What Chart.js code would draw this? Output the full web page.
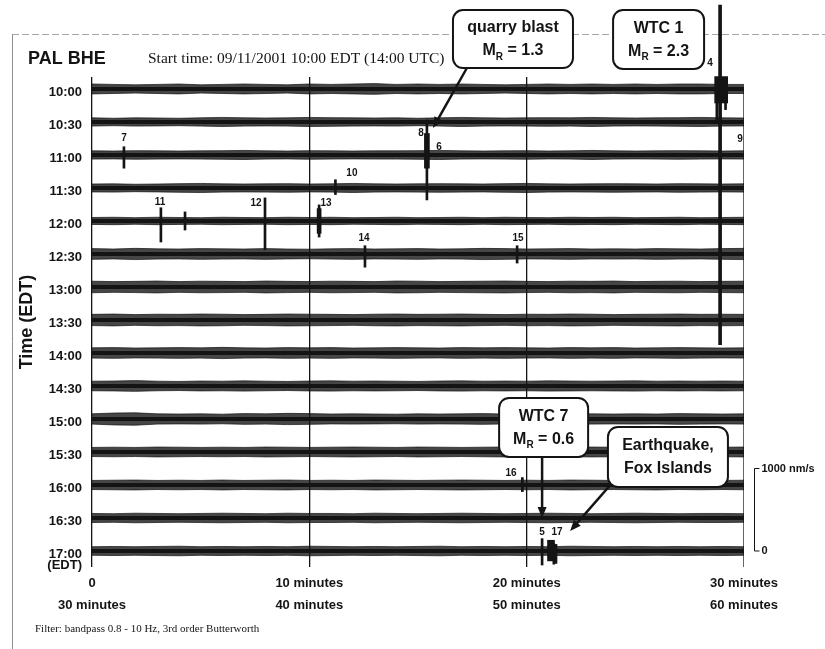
<!DOCTYPE html>
<html>
<head>
<meta charset="utf-8">
<title>PAL BHE seismogram</title>
<script src="https://cdn.jsdelivr.net/npm/chart.js@4.4.1/dist/chart.umd.min.js"></script>
<style>
  html, body { margin: 0; padding: 0; background: #fff; }
  #wrap { width: 825px; height: 649px; position: relative; }
</style>
</head>
<body>
<div id="wrap"><canvas id="seis"></canvas></div>
<script>
const INK = "#141414";
const SANS = "'Liberation Sans', Arial, sans-serif";
const SERIF = "'Liberation Serif', 'Times New Roman', serif";

// one trace per half hour, stacked downward
const TRACE_LABELS = [
  "10:00", "10:30", "11:00", "11:30", "12:00", "12:30", "13:00", "13:30",
  "14:00", "14:30", "15:00", "15:30", "16:00", "16:30", "17:00",
];
const TRACE_SPACING = 400; // nm/s between baselines

// sample times along each trace (minutes)
const MINUTES = [
  0, 1, 2, 3, 4, 5, 6, 7, 8, 9, 10, 11, 12, 13, 14, 15,
  16, 17, 18, 19, 20, 21, 22, 23, 24, 25, 26, 27, 28, 29, 30,
];

// background noise envelope per trace, half amplitude in nm/s
const NOISE_1000 = [60,55,50,55,60,50,55,60,55,50,60,55,60,65,55,60,55,60,55,50,55,60,55,60,55,60,55,60,60,55,55];
const NOISE_1030 = [50,45,50,48,45,50,55,50,48,50,55,52,50,48,50,45,50,55,50,48,50,52,50,55,50,48,50,52,55,50,48];
const NOISE_1100 = [50,48,52,50,48,50,52,55,50,48,52,50,48,50,50,52,55,50,48,50,52,48,50,55,50,48,50,52,50,48,50];
const NOISE_1130 = [48,50,45,48,52,55,50,48,50,52,48,50,55,50,48,50,52,50,48,52,55,50,48,50,52,50,48,52,50,48,50];
const NOISE_1200 = [42,45,40,45,42,40,45,42,40,45,42,45,40,42,45,40,42,45,40,45,42,40,45,42,45,40,42,45,40,42,45];
const NOISE_1230 = [65,60,68,62,60,65,62,60,65,60,58,62,65,60,62,65,60,62,68,65,60,62,65,60,62,60,65,62,60,65,68];
const NOISE_1300 = [70,65,68,72,65,70,68,65,72,68,65,70,68,65,72,70,65,68,70,72,68,65,70,68,72,65,68,70,65,68,70];
const NOISE_1330 = [68,72,65,70,68,72,70,65,68,72,70,68,65,70,72,68,70,72,68,65,70,68,72,70,65,68,70,72,68,70,68];
const NOISE_1400 = [62,65,60,62,65,62,68,62,60,65,62,65,60,62,65,62,60,65,62,65,62,60,65,62,65,60,62,65,62,60,62];
const NOISE_1430 = [58,60,65,58,55,60,58,62,58,55,60,62,58,60,58,55,60,62,58,60,58,62,60,58,60,62,58,60,58,60,58];
const NOISE_1500 = [62,72,75,62,60,62,58,65,62,68,65,60,62,60,58,62,60,62,65,60,62,60,65,62,60,62,60,65,62,60,62];
const NOISE_1530 = [55,58,55,60,58,55,58,55,60,58,55,58,60,58,55,60,58,55,58,60,58,55,58,60,58,55,60,58,55,58,60];
const NOISE_1600 = [55,58,60,55,58,55,60,55,58,60,55,58,55,60,58,55,58,60,58,55,58,55,60,58,55,58,60,55,58,55,58];
const NOISE_1630 = [55,52,58,55,52,55,58,55,52,58,55,55,52,58,55,52,55,58,55,52,55,58,55,52,55,58,55,52,55,55,52];
const NOISE_1700 = [52,55,52,55,58,52,55,52,55,52,58,55,52,55,52,55,58,52,55,52,55,52,58,55,52,55,52,55,52,55,52];
const NOISE = [
  NOISE_1000, NOISE_1030, NOISE_1100, NOISE_1130, NOISE_1200,
  NOISE_1230, NOISE_1300, NOISE_1330, NOISE_1400, NOISE_1430,
  NOISE_1500, NOISE_1530, NOISE_1600, NOISE_1630, NOISE_1700,
];

// short arrivals: [trace, minute, up nm/s, down nm/s]
const SPIKES = [
  [2, 1.47, 100, 160],
  [4, 3.17, 160, 255],
  [4, 4.28, 110, 110],
  [4, 7.96, 280, 350],
  [4, 10.45, 195, 195],
  [5, 12.56, 100, 160],
  [5, 19.56, 100, 110],
  [3, 11.2, 100, 80],
  [12, 19.8, 90, 80],
  [2, 15.41, 424, 545],
  [14, 20.71, 150, 170],
  [14, 21.25, 90, 160],
  [14, 21.35, 80, 150],
  [0, 28.75, 110, 420],
  [0, 29.15, 90, 250],
];

// energetic bursts: [trace, minute, up nm/s, down nm/s, bar width px]
const BURSTS = [
  [0, 28.9, 1018, 3100, 3],
  [0, 28.95, 150, 170, 13],
  [2, 15.41, 260, 160, 5],
  [14, 21.12, 130, 120, 7],
  [4, 10.45, 150, 150, 4],
];

// event numbers: [text, trace, minute, offset above baseline nm/s]
const EVENT_TAGS = [
  ["4", 0, 28.44, 315], ["9", 2, 29.82, 193], ["8", 2, 15.14, 266],
  ["6", 2, 15.97, 97], ["7", 2, 1.47, 206], ["10", 3, 11.96, 181],
  ["11", 4, 3.13, 230], ["12", 4, 7.55, 218], ["13", 4, 10.77, 218],
  ["14", 5, 12.52, 194], ["15", 5, 19.6, 194], ["16", 12, 19.28, 145],
  ["5", 14, 20.71, 230], ["17", 14, 21.4, 230],
];

// callout boxes, centre and arrow ends in (minute, nm/s)
const CALLOUTS = [
  { lines: ["quarry blast", "M_R = 1.3"], at: [19.37, 605], w: 120, h: 58,
    arrow: [[17.25, 254], [15.69, -473]] },
  { lines: ["WTC 1", "M_R = 2.3"], at: [26.07, 600], w: 91, h: 59, arrow: null },
  { lines: ["WTC 7", "M_R = 0.6"], at: [20.78, -4103], w: 89, h: 59,
    arrow: [[20.71, -4461], [20.71, -5200]] },
  { lines: ["Earthquake,", "Fox Islands"], at: [26.5, -4460], w: 120, h: 60,
    arrow: [[23.93, -4776], [22.0, -5358]] },
];

const X_TICKS = [0, 10, 20, 30];
const X_LABELS = [
  ["0", "30 minutes"],
  ["10 minutes", "40 minutes"],
  ["20 minutes", "50 minutes"],
  ["30 minutes", "60 minutes"],
];
const SCALE_BAR = 1000; // nm/s
const Y_MIN = -5794;
const Y_MAX = 145;
const X_END = 30;

const baseOf = (t) => -t * TRACE_SPACING;

const datasets = [];
NOISE.forEach((amps, t) => {
  const base = baseOf(t);
  datasets.push({
    type: "line",
    data: MINUTES.map((m, k) => ({ x: m, y: base + amps[k] })),
    borderColor: "rgba(18,18,18,0.7)",
    borderWidth: 1,
    backgroundColor: "rgba(18,18,18,0.78)",
    fill: "+1",
    pointRadius: 0,
    tension: 0,
    order: 2,
  });
  datasets.push({
    type: "line",
    data: MINUTES.map((m, k) => ({ x: m, y: base - amps[k] })),
    borderColor: "rgba(18,18,18,0.7)",
    borderWidth: 1,
    fill: false,
    pointRadius: 0,
    tension: 0,
    order: 2,
  });
  // dense core of the trace
  datasets.push({
    type: "line",
    data: [{ x: MINUTES[0], y: base }, { x: MINUTES[MINUTES.length - 1], y: base }],
    borderColor: INK,
    borderWidth: 4,
    fill: false,
    pointRadius: 0,
    order: 1,
  });
});

// closing frame line at the end of the window, from the first trace down
datasets.push({
  type: "line",
  data: [{ x: X_END, y: baseOf(0) }, { x: X_END, y: Y_MIN }],
  borderColor: INK,
  borderWidth: 1.3,
  fill: false,
  pointRadius: 0,
  order: 3,
});

datasets.push({
  type: "bar",
  data: SPIKES.map(([t, m, up, dn]) => ({ x: m, y: [baseOf(t) - dn, baseOf(t) + up] })),
  backgroundColor: INK,
  barThickness: 2,
  grouped: false,
  clip: false,
  order: 0,
});
BURSTS.forEach(([t, m, up, dn, w]) => {
  datasets.push({
    type: "bar",
    data: [{ x: m, y: [baseOf(t) - dn, baseOf(t) + up] }],
    backgroundColor: INK,
    barThickness: w,
    grouped: false,
    clip: false,
    order: 0,
  });
});

function drawArrow(ctx, x0, y0, x1, y1) {
  const ang = Math.atan2(y1 - y0, x1 - x0);
  const len = 11;
  ctx.beginPath();
  ctx.moveTo(x0, y0);
  ctx.lineTo(x1 - Math.cos(ang) * len * 0.8, y1 - Math.sin(ang) * len * 0.8);
  ctx.lineWidth = 2.5;
  ctx.strokeStyle = INK;
  ctx.stroke();
  ctx.beginPath();
  ctx.moveTo(x1, y1);
  ctx.lineTo(x1 - Math.cos(ang) * len + Math.sin(ang) * 4.5, y1 - Math.sin(ang) * len - Math.cos(ang) * 4.5);
  ctx.lineTo(x1 - Math.cos(ang) * len - Math.sin(ang) * 4.5, y1 - Math.sin(ang) * len + Math.cos(ang) * 4.5);
  ctx.closePath();
  ctx.fillStyle = INK;
  ctx.fill();
}

// text with an "_R" subscript marker
function drawCalloutLine(ctx, text, cx, cy) {
  const big = `bold 16px ${SANS}`;
  const small = `bold 10px ${SANS}`;
  const parts = text.split("_R");
  ctx.textBaseline = "middle";
  ctx.textAlign = "left";
  if (parts.length === 1) {
    ctx.font = big;
    const w = ctx.measureText(text).width;
    ctx.fillText(text, cx - w / 2, cy);
    return;
  }
  ctx.font = big;
  const w0 = ctx.measureText(parts[0]).width;
  const w2 = ctx.measureText(parts[1]).width;
  ctx.font = small;
  const w1 = ctx.measureText("R").width;
  let x = cx - (w0 + w1 + w2) / 2;
  ctx.font = big;
  ctx.fillText(parts[0], x, cy);
  x += w0;
  ctx.font = small;
  ctx.fillText("R", x, cy + 6);
  x += w1;
  ctx.font = big;
  ctx.fillText(parts[1], x, cy);
}

const decor = {
  id: "decor",
  beforeDraw(chart) {
    const { ctx } = chart;
    ctx.save();
    ctx.fillStyle = "#fff";
    ctx.fillRect(0, 0, chart.width, chart.height);
    // sheet edge
    ctx.strokeStyle = "#a6a6a6";
    ctx.lineWidth = 1;
    ctx.setLineDash([7, 3]);
    ctx.beginPath();
    ctx.moveTo(12, 34.5);
    ctx.lineTo(chart.width, 34.5);
    ctx.stroke();
    ctx.setLineDash([]);
    ctx.strokeStyle = "#8e8e8e";
    ctx.beginPath();
    ctx.moveTo(12.5, 34);
    ctx.lineTo(12.5, chart.height);
    ctx.stroke();
    ctx.restore();
  },
  afterDraw(chart) {
    const { ctx, chartArea: area } = chart;
    const xs = chart.scales.x;
    const ys = chart.scales.y;
    ctx.save();
    ctx.fillStyle = INK;

    // header
    ctx.textBaseline = "middle";
    ctx.textAlign = "left";
    ctx.font = `bold 18px ${SANS}`;
    ctx.fillText("PAL BHE", 28, 59);
    ctx.font = `15.5px ${SERIF}`;
    ctx.fillText("Start time: 09/11/2001 10:00 EDT (14:00 UTC)", 148, 59);

    // unit under the last hour label
    ctx.textAlign = "right";
    ctx.font = `bold 13px ${SANS}`;
    ctx.fillText("(EDT)", area.left - 10, ys.getPixelForValue(baseOf(TRACE_LABELS.length - 1)) + 14);

    // filter note
    ctx.textAlign = "left";
    ctx.font = `11px ${SERIF}`;
    ctx.fillText("Filter: bandpass 0.8 - 10 Hz, 3rd order Butterworth", 35, 629);

    // amplitude scale bar
    const sb0 = ys.getPixelForValue(baseOf(TRACE_LABELS.length - 1));
    const sb1 = ys.getPixelForValue(baseOf(TRACE_LABELS.length - 1) + SCALE_BAR);
    const sbx = area.right + 10.5;
    ctx.strokeStyle = INK;
    ctx.lineWidth = 1;
    ctx.beginPath();
    ctx.moveTo(sbx + 5, sb1);
    ctx.lineTo(sbx, sb1);
    ctx.lineTo(sbx, sb0);
    ctx.lineTo(sbx + 5, sb0);
    ctx.stroke();
    ctx.font = `bold 11px ${SANS}`;
    ctx.fillText("1000 nm/s", sbx + 7, sb1);
    ctx.fillText("0", sbx + 7, sb0);

    // event numbers
    ctx.textAlign = "center";
    ctx.font = `bold 10px ${SANS}`;
    EVENT_TAGS.forEach(([txt, t, m, off]) => {
      ctx.fillText(txt, xs.getPixelForValue(m), ys.getPixelForValue(baseOf(t) + off));
    });

    // callouts
    CALLOUTS.forEach((c) => {
      if (c.arrow) {
        const [[m0, v0], [m1, v1]] = c.arrow;
        drawArrow(ctx, xs.getPixelForValue(m0), ys.getPixelForValue(v0),
          xs.getPixelForValue(m1), ys.getPixelForValue(v1));
      }
      const cx = xs.getPixelForValue(c.at[0]);
      const cy = ys.getPixelForValue(c.at[1]);
      ctx.beginPath();
      ctx.roundRect(cx - c.w / 2, cy - c.h / 2, c.w, c.h, 10);
      ctx.fillStyle = "#fff";
      ctx.fill();
      ctx.lineWidth = 2;
      ctx.strokeStyle = INK;
      ctx.stroke();
      ctx.fillStyle = INK;
      drawCalloutLine(ctx, c.lines[0], cx, cy - 11);
      drawCalloutLine(ctx, c.lines[1], cx, cy + 12);
    });
    ctx.restore();
  },
};

new Chart(document.getElementById("seis"), {
  type: "line",
  data: { datasets },
  options: {
    responsive: true,
    maintainAspectRatio: false,
    animation: false,
    events: [],
    layout: { padding: { left: 10, right: 81, top: 77, bottom: 0 } },
    plugins: { legend: { display: false }, tooltip: { enabled: false } },
    scales: {
      x: {
        type: "linear",
        min: 0,
        max: X_END,
        offset: false,
        afterBuildTicks: (scale) => {
          scale.ticks = X_TICKS.map((v) => ({ value: v }));
        },
        afterFit: (scale) => {
          scale.height = 82;
        },
        ticks: {
          autoSkip: false,
          maxRotation: 0,
          padding: 6,
          color: INK,
          font: { family: SANS, size: 13, weight: "bold", lineHeight: 1.65 },
          callback: (v) => X_LABELS[X_TICKS.indexOf(v)],
        },
        grid: {
          // the closing line at 30 min is drawn as its own dataset
          color: (c) => (c.tick && c.tick.value === X_END ? "rgba(0,0,0,0)" : INK),
          lineWidth: 1.3,
          drawTicks: false,
          offset: false,
        },
        border: { display: false },
      },
      y: {
        type: "linear",
        min: Y_MIN,
        max: Y_MAX,
        afterBuildTicks: (scale) => {
          scale.ticks = TRACE_LABELS.map((_, i) => ({ value: baseOf(i) }));
        },
        afterFit: (scale) => {
          scale.width = 82;
        },
        ticks: {
          autoSkip: false,
          padding: 10,
          labelOffset: 3,
          color: INK,
          font: { family: SANS, size: 13, weight: "bold" },
          callback: (v) => TRACE_LABELS[Math.round(-v / TRACE_SPACING)],
        },
        grid: { display: false, drawTicks: false },
        border: { display: false },
        title: {
          display: true,
          text: "Time (EDT)",
          color: INK,
          font: { family: SANS, size: 18, weight: "bold" },
          padding: { top: 6, bottom: 0 },
        },
      },
    },
  },
  plugins: [decor],
});
</script>
</body>
</html>
